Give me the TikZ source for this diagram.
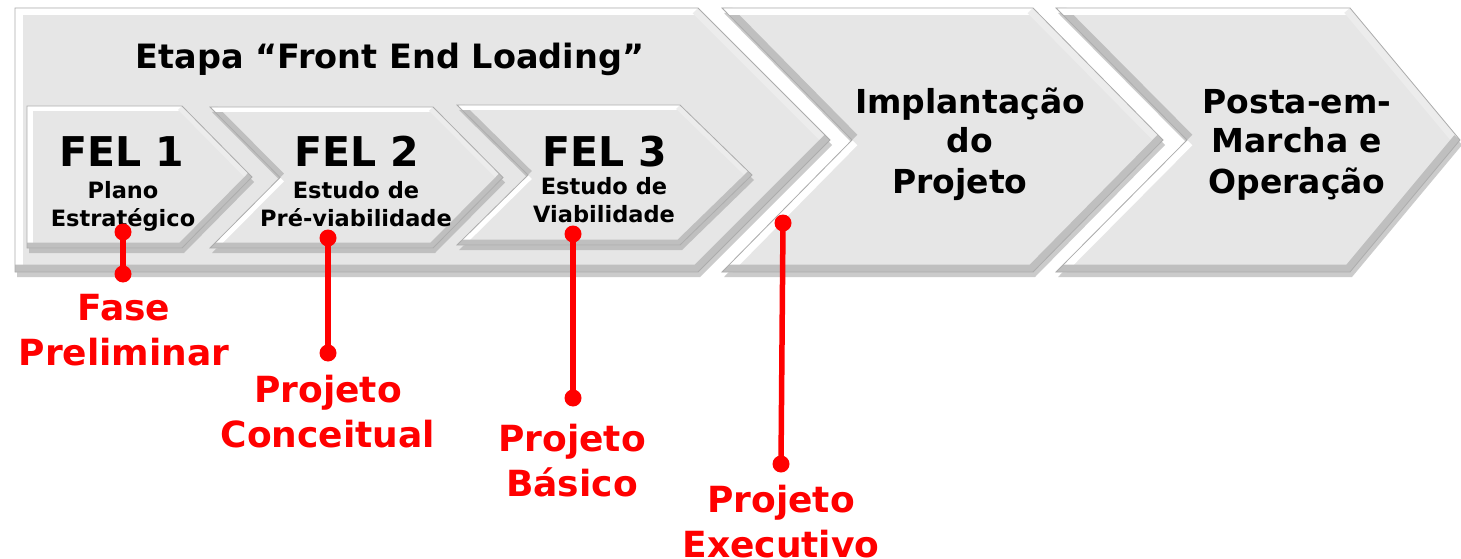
\documentclass[tikz,border=0pt]{standalone}
\usepackage{fontspec}
\setmainfont{DejaVu Sans}
\usetikzlibrary{calc}
\definecolor{cfill}{HTML}{E6E6E6}
\definecolor{fred}{HTML}{FF0000}
% #1 left x, #2 notch depth, #3 right x, #4 tip depth, #5 top y, #6 bottom y, #7 bevel width, #8 upper-notch bevel colour
\newcommand\mychev[8]{%
  \pgfmathsetmacro\ym{(#5+#6)/2}%
  \pgfmathsetmacro\xn{#1+#2}%
  \pgfmathsetmacro\xt{#3+#4}%
  \begin{scope}[shift={(2,5)}]
    \fill[black!40, opacity=.5] (#1,#5) -- (#3,#5) -- (\xt,\ym) -- (#3,#6) -- (#1,#6) -- (\xn,\ym) -- cycle;
  \end{scope}
  \fill[cfill] (#1,#5) -- (#3,#5) -- (\xt,\ym) -- (#3,#6) -- (#1,#6) -- (\xn,\ym) -- cycle;
  \begin{scope}
    \clip (#1,#5) -- (#3,#5) -- (\xt,\ym) -- (#3,#6) -- (#1,#6) -- (\xn,\ym) -- cycle;
    \draw[white, line width=#7] (\xn,\ym) -- (#1,#6);
    \draw[#8, line width=#7] (#1,#5) -- (\xn,\ym);
    \draw[white, line width=#7] (#1,#5) -- (#3,#5);
    \draw[gray!15, line width=#7] (#3,#5) -- (\xt,\ym);
    \draw[gray!50, line width=#7] (\xt,\ym) -- (#3,#6) -- (#1,#6);
  \end{scope}
  \draw[gray!65, line width=0.8] (#1,#5) -- (#3,#5) -- (\xt,\ym) -- (#3,#6) -- (#1,#6) -- (\xn,\ym) -- cycle;
}
\begin{document}
\begin{tikzpicture}[x=1pt,y=-1pt,
  titletext/.style={font=\bfseries\fontsize{33.5}{40}\selectfont, inner sep=0},
  feltext/.style={font=\bfseries\fontsize{41}{48}\selectfont, inner sep=0},
  subtext/.style={font=\bfseries\fontsize{22.5}{28}\selectfont, align=center, inner sep=0},
  stagetext/.style={font=\bfseries\fontsize{33}{40}\selectfont, align=center, inner sep=0},
  redlbl/.style={font=\bfseries\fontsize{36}{45}\selectfont, align=center, inner sep=0, text=fred},
  reddot/.style={circle, fill=fred, inner sep=0, minimum size=17},
  redline/.style={draw=fred, line width=5.5}]
\useasboundingbox (0,0) rectangle (1461,559);
\fill[white] (0,0) rectangle (1461,559);

% big chevrons
\mychev{15}{0}{698}{132}{8}{272}{15}{white}
\mychev{722}{130}{1033}{130}{8}{272}{15}{gray!50}
\mychev{1056}{131}{1350}{110}{8}{272}{15}{gray!50}
% small chevrons
\mychev{27}{0}{182}{70}{106}{248}{11}{white}
\mychev{210}{70}{433}{70}{107}{248}{11}{gray!50}
\mychev{457}{71}{680}{72}{105}{245}{11}{gray!50}

% texts (multi-line nodes: base = baseline of last line)
\node[titletext, anchor=base] (etapa) at (390,69) {Etapa “Front End Loading”};
\node[feltext, anchor=base] (fel1) at (122,166) {FEL 1};
\node[feltext, anchor=base] (fel2) at (357,166) {FEL 2};
\node[feltext, anchor=base] (fel3) at (605,166) {FEL 3};
\node[subtext, anchor=base] (s1) at (123,226) {Plano\\Estratégico};
\node[subtext, anchor=base] (s2) at (356,226) {Estudo de\\Pré-viabilidade};
\node[subtext, anchor=base] (s3) at (604,222) {Estudo de\\Viabilidade};
\node[stagetext, anchor=base] (impl) at (970,193) {Implantação\\do\hspace*{46pt}\\Projeto\hspace*{20pt}};
\node[stagetext, anchor=base] (posta) at (1297,193) {Posta-em-\\Marcha e\\Operação};

% red markers
\node[reddot] (a1) at (123,232) {};
\node[reddot] (b1) at (123,274) {};
\node[reddot] (a2) at (328,238) {};
\node[reddot] (b2) at (328,353) {};
\node[reddot] (a3) at (573,234) {};
\node[reddot] (b3) at (573,398) {};
\node[reddot] (a4) at (783,223) {};
\node[reddot] (b4) at (781,464) {};
\draw[redline] (a1.center) -- (b1.center);
\draw[redline] (a2.center) -- (b2.center);
\draw[redline] (a3.center) -- (b3.center);
\draw[redline] (a4.center) -- (b4.center);

\node[redlbl, anchor=base] (l1) at (124,365) {Fase\\Preliminar};
\node[redlbl, anchor=base] (l2) at (328,447) {Projeto\\Conceitual};
\node[redlbl, anchor=base] (l3) at (572,496) {Projeto\\Básico};
\node[redlbl, anchor=base] (l4) at (781,557) {Projeto\\Executivo};
\end{tikzpicture}
\end{document}
